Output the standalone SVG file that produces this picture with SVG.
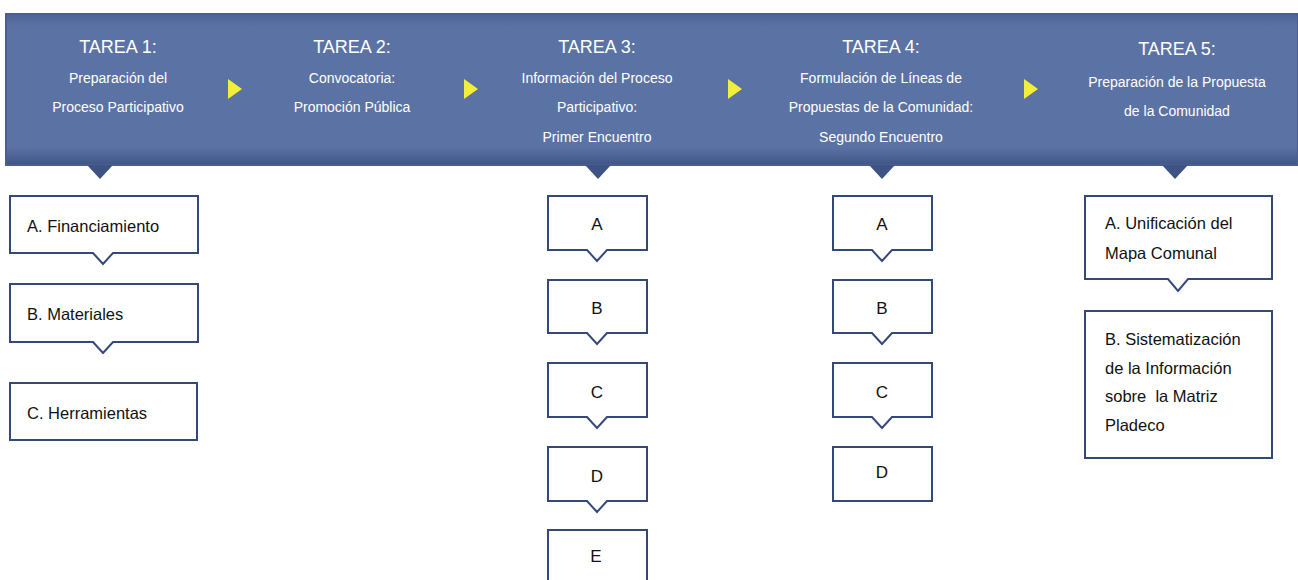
<svg xmlns="http://www.w3.org/2000/svg" width="1298" height="580" viewBox="0 0 1298 580">
<style>
.ttl{font-family:"Liberation Sans",Arial,sans-serif;font-size:18px;fill:#ffffff;text-anchor:middle}
.sub{font-family:"Liberation Sans",Arial,sans-serif;font-size:14px;fill:#ffffff;text-anchor:middle}
.box{fill:#ffffff;stroke:#34497a;stroke-width:2}
.lbl{font-family:"Liberation Sans",Arial,sans-serif;font-size:16.5px;fill:#111111}
.ltr{font-family:"Liberation Sans",Arial,sans-serif;font-size:17px;fill:#111111;text-anchor:middle}
.ptr{fill:#3e5283}
.arr{fill:#f2ee3c}
</style>
<defs>
<linearGradient id="bg" x1="0" y1="0" x2="0" y2="1">
<stop offset="0" stop-color="#4c6394"/>
<stop offset="0.08" stop-color="#5b73a4"/>
<stop offset="0.88" stop-color="#5b73a4"/>
<stop offset="1" stop-color="#3f5586"/>
</linearGradient>
</defs>
<g id="banner">
<rect x="6" y="14" width="1292" height="151" fill="url(#bg)"/>
<line x1="6" y1="13.5" x2="1298" y2="13.5" stroke="#b9bfcc" stroke-width="1"/>
<rect x="6" y="14" width="1292" height="151" fill="none" stroke="#4a5f90" stroke-width="2"/>
<polygon class="ptr" points="87,165 113,165 100,179"/>
<polygon class="ptr" points="585,165 611,165 598,179"/>
<polygon class="ptr" points="869,165 895,165 882,179"/>
<polygon class="ptr" points="1162,165 1188,165 1175,179"/>
</g>
<g id="tarea1">
<text class="ttl" x="118" y="53">TAREA 1:</text>
<text class="sub" x="118" y="83">Preparación del</text>
<text class="sub" x="118" y="112">Proceso Participativo</text>
</g>
<g id="tarea2">
<text class="ttl" x="352" y="53">TAREA 2:</text>
<text class="sub" x="352" y="83">Convocatoria:</text>
<text class="sub" x="352" y="112">Promoción Pública</text>
</g>
<g id="tarea3">
<text class="ttl" x="597" y="53">TAREA 3:</text>
<text class="sub" x="597" y="83">Información del Proceso</text>
<text class="sub" x="597" y="112">Participativo:</text>
<text class="sub" x="597" y="142">Primer Encuentro</text>
</g>
<g id="tarea4">
<text class="ttl" x="881" y="53">TAREA 4:</text>
<text class="sub" x="881" y="83">Formulación de Líneas de</text>
<text class="sub" x="881" y="112">Propuestas de la Comunidad:</text>
<text class="sub" x="881" y="142">Segundo Encuentro</text>
</g>
<g id="tarea5">
<text class="ttl" x="1177" y="55">TAREA 5:</text>
<text class="sub" x="1177" y="87">Preparación de la Propuesta</text>
<text class="sub" x="1177" y="116">de la Comunidad</text>
</g>
<g id="connectors">
<polygon class="arr" points="228,79 242,89 228,99"/>
<polygon class="arr" points="464,79 478,89 464,99"/>
<polygon class="arr" points="728,79 742,89 728,99"/>
<polygon class="arr" points="1024,79 1038,89 1024,99"/>
</g>
<g id="t1-a">
<path class="box" d="M10,196 H198 V253 H113 L103,264 L93,253 H10 Z"/>
<text class="lbl" x="27" y="232">A. Financiamiento</text>
</g>
<g id="t1-b">
<path class="box" d="M10,284 H198 V342 H113 L103,353 L93,342 H10 Z"/>
<text class="lbl" x="27" y="320">B. Materiales</text>
</g>
<g id="t1-c">
<rect class="box" x="10" y="383" width="187" height="57"/>
<text class="lbl" x="27" y="419">C. Herramientas</text>
</g>
<g id="t3-a">
<path class="box" d="M548,196 H647 V250 H607 L597,261 L587,250 H548 Z"/>
<text class="ltr" x="597" y="230">A</text>
</g>
<g id="t3-b">
<path class="box" d="M548,280 H647 V333 H607 L597,344 L587,333 H548 Z"/>
<text class="ltr" x="597" y="314">B</text>
</g>
<g id="t3-c">
<path class="box" d="M548,363 H647 V417 H607 L597,428 L587,417 H548 Z"/>
<text class="ltr" x="597" y="398">C</text>
</g>
<g id="t3-d">
<path class="box" d="M548,447 H647 V501 H607 L597,512 L587,501 H548 Z"/>
<text class="ltr" x="597" y="482">D</text>
</g>
<g id="t3-e">
<rect class="box" x="548" y="530" width="99" height="60"/>
<text class="ltr" x="596" y="562">E</text>
</g>
<g id="t4-a">
<path class="box" d="M833,196 H932 V250 H892 L882,261 L872,250 H833 Z"/>
<text class="ltr" x="882" y="230">A</text>
</g>
<g id="t4-b">
<path class="box" d="M833,280 H932 V333 H892 L882,344 L872,333 H833 Z"/>
<text class="ltr" x="882" y="314">B</text>
</g>
<g id="t4-c">
<path class="box" d="M833,363 H932 V417 H892 L882,428 L872,417 H833 Z"/>
<text class="ltr" x="882" y="398">C</text>
</g>
<g id="t4-d">
<rect class="box" x="833" y="447" width="99" height="54"/>
<text class="ltr" x="882" y="478">D</text>
</g>
<g id="t5-a">
<path class="box" d="M1085,196 H1272 V279 H1188 L1178,291 L1168,279 H1085 Z"/>
<text class="lbl" x="1105" y="229">A. Unificación del</text>
<text class="lbl" x="1105" y="259">Mapa Comunal</text>
</g>
<g id="t5-b">
<rect class="box" x="1085" y="311" width="187" height="147"/>
<text class="lbl" x="1105" y="345">B. Sistematización</text>
<text class="lbl" x="1105" y="374">de la Información</text>
<text class="lbl" x="1105" y="402" xml:space="preserve">sobre  la Matriz</text>
<text class="lbl" x="1105" y="431">Pladeco</text>
</g>
</svg>
